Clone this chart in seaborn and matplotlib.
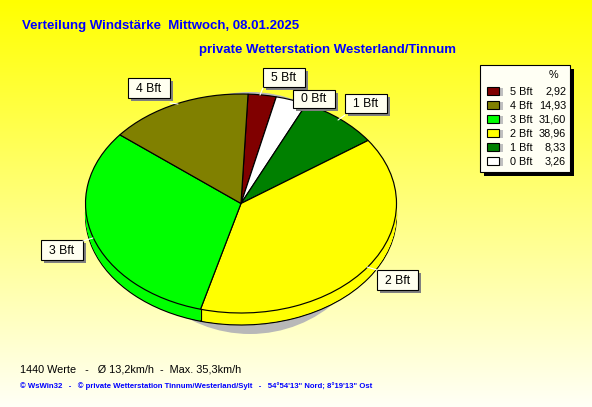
import numpy as np
import matplotlib
matplotlib.use('Agg')
import matplotlib.pyplot as plt
from matplotlib.colors import LinearSegmentedColormap
from matplotlib.patches import Ellipse, Rectangle
import seaborn as sns

# Values in clockwise order, starting from the top of the pie
pie_labels = ['5 Bft', '0 Bft', '1 Bft', '2 Bft', '3 Bft', '4 Bft']
pie_values = [2.92, 3.26, 8.33, 38.96, 31.60, 14.93]
pie_colors = ['#800000', '#FFFFFF', '#008000', '#FFFF00', '#00FF00', '#808000']

# Legend runs in its own order
legend_labels = ['5 Bft', '4 Bft', '3 Bft', '2 Bft', '1 Bft', '0 Bft']
legend_values = ['2,92', '14,93', '31,60', '38,96', '8,33', '3,26']
legend_colors = ['#800000', '#808000', '#00FF00', '#FFFF00', '#008000', '#FFFFFF']

title_text = 'Verteilung Windstärke  Mittwoch, 08.01.2025'
subtitle_text = 'private Wetterstation Westerland/Tinnum'
stats_text = '1440 Werte   -   Ø 13,2km/h  -  Max. 35,3km/h'
footer_text = '© WsWin32   -   © private Wetterstation Tinnum/Westerland/Sylt   -   54°54\'13" Nord; 8°19\'13" Ost'

W, H = 592, 407
CX, CY, RX, RY = 241, 203.5, 155.5, 109.5
DEPTH = 12
START = 87.4

sns.set_theme(style='white')
plt.rcParams['font.family'] = ['Liberation Sans', 'DejaVu Sans']

fig = plt.figure(figsize=(W / 100, H / 100), dpi=100)

# Background gradient, yellow at the top fading to pale at the bottom
bg_ax = fig.add_axes([0, 0, 1, 1], zorder=0)
bg_cmap = LinearSegmentedColormap.from_list('bg', ['#FFFF00', '#FFFFF6'])
bg_ax.imshow(np.linspace(0, 1, 256).reshape(-1, 1), cmap=bg_cmap, aspect='auto')
bg_ax.axis('off')

# Pixel space layer under the pie, for its shadow
under_ax = fig.add_axes([0, 0, 1, 1], zorder=1)
under_ax.set_xlim(0, W)
under_ax.set_ylim(H, 0)
under_ax.axis('off')
under_ax.add_patch(Ellipse((250, 213), 252, 242, fc='#B8B8B8', ec='none'))

# Pie axes: one data unit is the radius, squashed to an ellipse
pie_ax = fig.add_axes([0, 0, 1, 1], zorder=2)
pie_ax.patch.set_alpha(0)
wedge_style = {'edgecolor': 'black', 'linewidth': 0.85}

# Side of the disc: outlined bottom layer, then plain layers stacked up to the top
pie_ax.pie(pie_values, colors=pie_colors, startangle=START, counterclock=False,
           center=(0, -DEPTH / RY), wedgeprops=wedge_style)
for d in np.arange(DEPTH - 1, 0, -0.5):
    pie_ax.pie(pie_values, colors=pie_colors, startangle=START, counterclock=False,
               center=(0, -d / RY), wedgeprops={'edgecolor': 'none', 'linewidth': 0})

# Vertical seams on the visible front of the side
angles = START - np.cumsum(pie_values) * 3.6
for a in np.radians(angles):
    if np.sin(a) < 0:
        pie_ax.plot([np.cos(a)] * 2, [np.sin(a), np.sin(a) - DEPTH / RY], color='black', lw=0.85)

pie_ax.pie(pie_values, colors=pie_colors, startangle=START, counterclock=False,
           wedgeprops=wedge_style)
pie_ax.set_aspect('auto')
pie_ax.set_xlim(-CX / RX, (W - CX) / RX)
pie_ax.set_ylim((CY - H) / RY, CY / RY)
pie_ax.axis('off')

# Pixel space layer on top, for labels, legend and text
ax = fig.add_axes([0, 0, 1, 1], zorder=3)
ax.patch.set_alpha(0)
ax.set_xlim(0, W)
ax.set_ylim(H, 0)
ax.axis('off')

ax.text(22, 26, title_text, color='#0000FF', fontsize=9.5, fontweight='bold', va='center')
ax.text(199, 49.5, subtitle_text, color='#0000FF', fontsize=9.5, fontweight='bold', va='center')
ax.text(20, 369, stats_text, color='black', fontsize=7.8, va='center')
ax.text(20, 386, footer_text, color='#0000FF', fontsize=5.6, fontweight='bold', va='center')

# Callout boxes around the pie: left, top, right, bottom, leader line
callouts = {
    '4 Bft': (128, 78, 170, 98, (170, 103), (178, 104)),
    '5 Bft': (263, 68, 305, 87, (263, 88), (260, 95)),
    '0 Bft': (293, 90, 335, 108, None, None),
    '1 Bft': (345, 94, 387, 113, (345, 115), (338, 120)),
    '2 Bft': (377, 270, 418, 290, (377, 270), (367, 267)),
    '3 Bft': (41, 240, 83, 260, (83, 241), (93, 238)),
}
for name, (x0, y0, x1, y1, p0, p1) in callouts.items():
    if p0 is not None:
        ax.plot([p0[0], p1[0]], [p0[1], p1[1]], color='white', lw=0.8)
    ax.add_patch(Rectangle((x0 + 3, y0 + 3), x1 - x0, y1 - y0, fc='#808080', ec='none'))
    ax.add_patch(Rectangle((x0, y0), x1 - x0, y1 - y0, fc='#FFFFF0', ec='black', lw=0.8))
    ax.text((x0 + x1) / 2, (y0 + y1) / 2 + 0.5, name, color='black', fontsize=8.8,
            ha='center', va='center')

# Legend box with hard black shadow
ax.add_patch(Rectangle((484, 69), 90, 107, fc='black', ec='none'))
ax.add_patch(Rectangle((480, 65), 90, 107, fc='#FFFFF4', ec='black', lw=0.8))
ax.text(553, 75.5, '%', color='black', fontsize=7.8, ha='center', va='center')
for i, (name, value, color) in enumerate(zip(legend_labels, legend_values, legend_colors)):
    y = 91 + i * 14
    ax.add_patch(Rectangle((491, y - 3), 12, 8, fc='#C0C0C0', ec='none'))
    ax.add_patch(Rectangle((487, y - 4), 11.5, 7.5, fc=color, ec='black', lw=0.8))
    ax.text(510, y + 0.8, name, color='black', fontsize=7.8, va='center')
    ax.text(566, y + 0.8, value, color='black', fontsize=7.8, ha='right', va='center')

fig.savefig('out.png', dpi=100)
